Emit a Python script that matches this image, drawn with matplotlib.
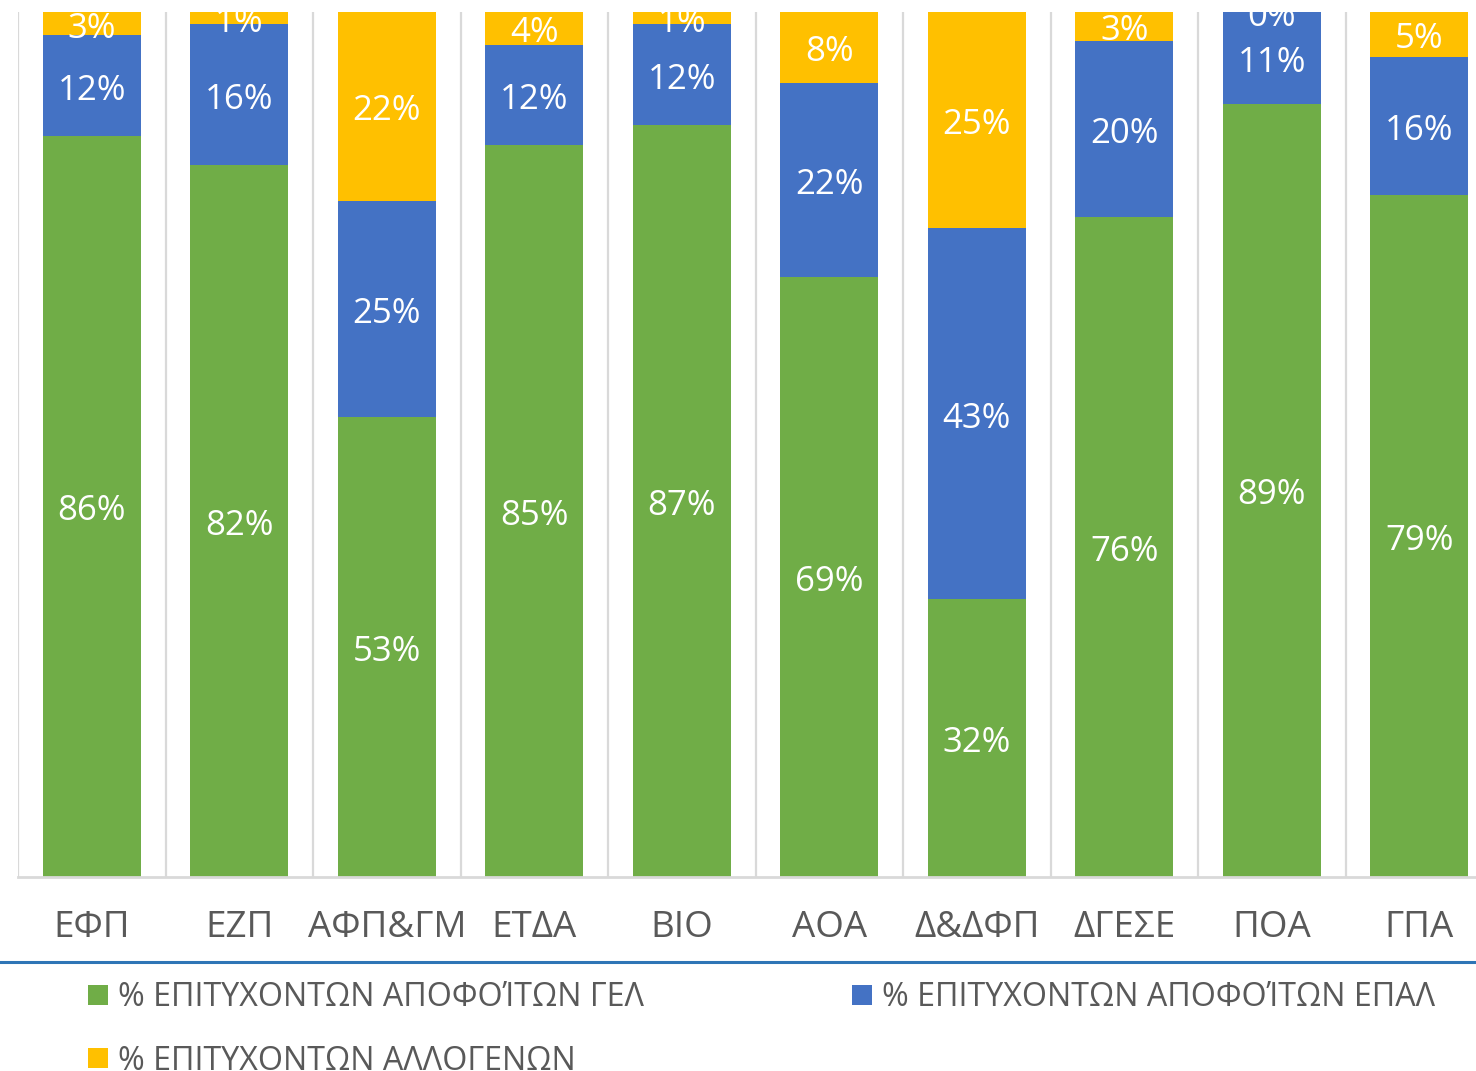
import matplotlib
matplotlib.use("Agg")
import matplotlib.pyplot as plt
from matplotlib.patches import Rectangle
from matplotlib.lines import Line2D
from matplotlib.transforms import offset_copy
import numpy as np

plt.rcParams['font.family'] = ['Open Sans', 'DejaVu Sans']

categories = ['ΕΦΠ', 'ΕΖΠ', 'ΑΦΠ&ΓΜ', 'ΕΤΔΑ', 'ΒΙΟ', 'ΑΟΑ', 'Δ&ΔΦΠ', 'ΔΓΕΣΕ', 'ΠΟΑ', 'ΓΠΑ']
gel = [85.7, 82.3, 53.2, 84.6, 86.9, 69.4, 32.1, 76.3, 89.4, 78.8]
epal = [11.6, 16.3, 25.0, 11.6, 11.7, 22.4, 42.9, 20.4, 10.6, 16.0]
allog = [2.7, 1.4, 21.8, 3.8, 1.4, 8.2, 25.0, 3.3, 0.0, 5.2]
series_names = ['% ΕΠΙΤΥΧΟΝΤΩΝ ΑΠΟΦΟΊΤΩΝ ΓΕΛ',
                '% ΕΠΙΤΥΧΟΝΤΩΝ ΑΠΟΦΟΊΤΩΝ ΕΠΑΛ',
                '% ΕΠΙΤΥΧΟΝΤΩΝ ΑΛΛΟΓΕΝΩΝ']
colors = ['#70AD47', '#4472C4', '#FFC000']

W, H = 1476, 1071
fig = plt.figure(figsize=(W / 100, H / 100), dpi=100)
ax = fig.add_axes([18 / W, (H - 877) / H, 1475 / W, 865 / H])

lbl_tr = offset_copy(ax.transData, fig=fig, x=0, y=-5, units='dots')

x = np.arange(len(categories))
series = [np.array(gel), np.array(epal), np.array(allog)]
totals = sum(series)
bottom = np.zeros(len(categories))
for vals, col in zip(series, colors):
    pct = vals / totals * 100
    ax.bar(x, pct, bottom=bottom, width=0.665, color=col, zorder=2)
    for xi, b, p, v in zip(x, bottom, pct, vals):
        ax.text(xi, b + p / 2, f'{v:.0f}%', ha='center', va='center',
                color='white', fontsize=25, clip_on=True, zorder=3,
                transform=lbl_tr)
    bottom = bottom + pct

ax.set_xlim(-0.5, len(categories) - 0.5)
ax.set_ylim(0, 100)
ax.set_yticks([])
for s in ['left', 'right', 'top']:
    ax.spines[s].set_visible(False)
ax.spines['bottom'].set_color('#D9D9D9')
ax.spines['bottom'].set_linewidth(2)
ax.set_xticks(x)
ax.set_xticklabels(categories, fontsize=26.5, color='#595959')
ax.tick_params(axis='x', length=0, pad=24)
ax.set_xticks(np.arange(-0.5, len(categories), 1), minor=True)
ax.tick_params(axis='x', which='minor', length=0)
ax.grid(which='minor', axis='x', color='#D9D9D9', linewidth=1.6, zorder=0)
ax.set_axisbelow(True)

# separator line
fig.add_artist(Line2D([0, 1], [(H - 962) / H] * 2, transform=fig.transFigure,
                      color='#2E75B6', linewidth=2.2))

# legend (row-wise, like the reference)
leg_pos = [(88, 995), (852, 995), (88, 1058)]
sq = 20
for (px, py), name, col in zip(leg_pos, series_names, colors):
    fig.add_artist(Rectangle((px / W, (H - py - sq / 2) / H), sq / W, sq / H,
                             transform=fig.transFigure, facecolor=col, edgecolor='none'))
    fig.text((px + sq + 10) / W, (H - py - 3) / H, name, ha='left', va='center',
             fontsize=23.2, color='#595959')

fig.savefig('out.png', dpi=100)
